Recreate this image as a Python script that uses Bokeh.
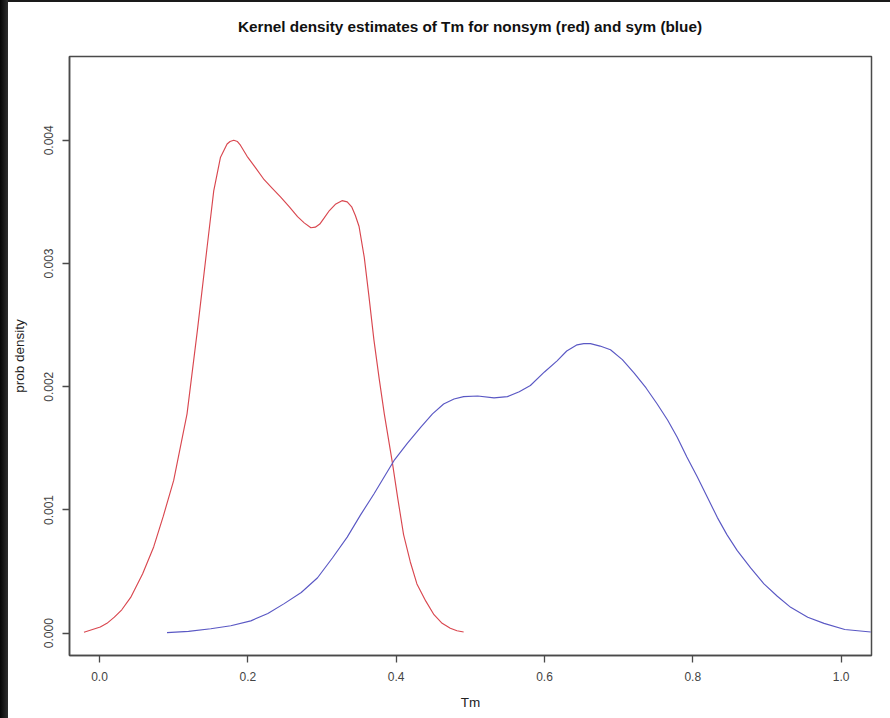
from bokeh.plotting import figure
from bokeh.models import Range1d, FixedTicker, PrintfTickFormatter, Div
from bokeh.layouts import row, column
from bokeh.embed import file_html
from bokeh.resources import INLINE

title_text = "Kernel density estimates of Tm for nonsym (red) and sym (blue)"
x_label = "Tm"
y_label = "prob density"

x_ticks = [0.0, 0.2, 0.4, 0.6, 0.8, 1.0]
y_ticks = [0.000, 0.001, 0.002, 0.003, 0.004]

# nonsym (red) kernel density
red_x = [-0.021, 0.001, 0.010, 0.020, 0.030, 0.042, 0.058, 0.073, 0.086, 0.100,
         0.118, 0.132, 0.145, 0.154, 0.163, 0.172, 0.176, 0.181, 0.186, 0.190,
         0.199, 0.210, 0.222, 0.233, 0.244, 0.256, 0.267, 0.276, 0.285, 0.291,
         0.297, 0.303, 0.310, 0.318, 0.327, 0.334, 0.340, 0.345, 0.350, 0.357,
         0.363, 0.370, 0.377, 0.384, 0.395, 0.402, 0.410, 0.419, 0.428, 0.440,
         0.451, 0.462, 0.473, 0.482, 0.491]
red_y = [0.000008, 0.00005, 0.00008, 0.00013, 0.00019, 0.00029, 0.00048, 0.00070,
         0.00095, 0.00124, 0.00178, 0.00246, 0.00313, 0.00359, 0.00386, 0.00397,
         0.00399, 0.00400, 0.00399, 0.00396, 0.00387, 0.00378, 0.00368, 0.00361,
         0.00354, 0.00346, 0.00338, 0.00333, 0.00329, 0.003295, 0.00332, 0.00337,
         0.00343, 0.00348, 0.00351, 0.00350, 0.00346, 0.00339, 0.00330, 0.00305,
         0.00275, 0.00238, 0.00207, 0.00178, 0.00138, 0.00110, 0.00080, 0.00058,
         0.00040, 0.00026, 0.00015, 0.00008, 0.00004, 0.00002, 0.00001]

# sym (blue) kernel density
blue_x = [0.091, 0.120, 0.150, 0.177, 0.204, 0.227, 0.249, 0.272, 0.294, 0.314,
          0.334, 0.352, 0.370, 0.384, 0.397, 0.415, 0.433, 0.449, 0.464, 0.478,
          0.491, 0.510, 0.532, 0.550, 0.566, 0.581, 0.600, 0.617, 0.630, 0.644,
          0.653, 0.662, 0.675, 0.689, 0.705, 0.721, 0.737, 0.752, 0.766, 0.779,
          0.792, 0.806, 0.820, 0.833, 0.846, 0.860, 0.878, 0.896, 0.914, 0.932,
          0.955, 0.977, 1.005, 1.040]
blue_y = [0.000005, 0.000015, 0.000036, 0.00006, 0.00010, 0.00016, 0.00024, 0.00033,
          0.00045, 0.00061, 0.00078, 0.00096, 0.00113, 0.00127, 0.00140, 0.00154,
          0.00167, 0.00178, 0.00186, 0.00190, 0.00192, 0.001925, 0.00191, 0.00192,
          0.00196, 0.00201, 0.00212, 0.00221, 0.00229, 0.00234, 0.00235, 0.00235,
          0.00233, 0.00230, 0.00222, 0.00211, 0.00199, 0.00186, 0.00173, 0.00159,
          0.00143, 0.00127, 0.00110, 0.00094, 0.00080, 0.00067, 0.00053, 0.00040,
          0.00030, 0.00021, 0.00013, 0.00008, 0.00003, 0.00001]

FONT = "Liberation Sans"
FRAME = "#4a4a4a"

p = figure(width=882, height=666, output_backend="svg", toolbar_location=None,
           x_range=Range1d(-0.0405, 1.041), y_range=Range1d(-0.000181, 0.00468),
           min_border_left=61, min_border_right=19, min_border_top=4,
           min_border_bottom=63, margin=0)
p.title.visible = False

p.line(red_x, red_y, line_color="#d9474f", line_width=1.15)
p.line(blue_x, blue_y, line_color="#5a58c4", line_width=1.15)

p.grid.visible = False
p.outline_line_color = FRAME
p.outline_line_width = 1.5
p.background_fill_color = "white"
p.border_fill_color = "white"

for ax in (p.xaxis[0], p.yaxis[0]):
    ax.axis_line_color = FRAME
    ax.axis_line_width = 1.5
    ax.major_tick_line_color = FRAME
    ax.major_tick_line_width = 1.3
    ax.major_tick_out = 7
    ax.major_tick_in = 0
    ax.minor_tick_line_color = None
    ax.major_label_text_font = FONT
    ax.major_label_text_font_size = "12px"
    ax.major_label_text_color = "#444444"
    ax.axis_label_text_font = FONT
    ax.axis_label_text_font_style = "normal"
    ax.axis_label_text_font_size = "13.5px"
    ax.axis_label_text_color = "#222222"

p.xaxis.ticker = FixedTicker(ticks=x_ticks)
p.xaxis.formatter = PrintfTickFormatter(format="%.1f")
p.xaxis.major_label_standoff = 9
p.xaxis.axis_label = x_label
p.xaxis.axis_label_standoff = 11

p.yaxis.ticker = FixedTicker(ticks=y_ticks)
p.yaxis.formatter = PrintfTickFormatter(format="%.3f")
p.yaxis.major_label_orientation = "vertical"
p.yaxis.major_label_standoff = 9
p.yaxis.axis_label = y_label
p.yaxis.axis_label_standoff = 15

title_html = (
    '<div style="width:924px;text-align:center;line-height:50px;'
    "font-family:'Liberation Sans';font-weight:bold;font-size:15.3px;"
    'color:#111111;white-space:nowrap">' + title_text + "</div>"
)
title_div = Div(text=title_html, width=882, height=50, margin=0,
                styles={"background": "white", "overflow": "visible"})

left_strip = Div(width=8, height=718, margin=0,
                 styles={"background": "linear-gradient(to right, #050505, #2e2e2e)"})
top_strip = Div(width=882, height=2, margin=0, styles={"background": "#1a1a1a"})

layout = row(left_strip, column(top_strip, title_div, p, spacing=0, margin=0),
             spacing=0, margin=0)

open("out.html", "w").write(file_html(layout, INLINE))
